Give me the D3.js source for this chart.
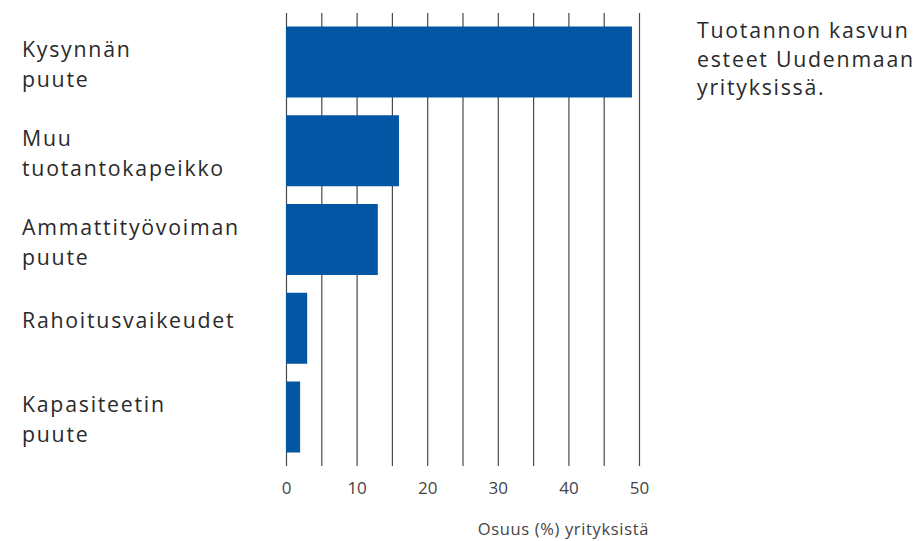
<!DOCTYPE html>
<html>
<head>
<meta charset="utf-8">
<script src="https://cdn.jsdelivr.net/npm/d3@7"></script>
<style>
  html, body { margin: 0; padding: 0; background: #fff; }
  svg { display: block; }
  text { font-family: "Open Sans", "Noto Sans", sans-serif; }
</style>
</head>
<body>
<svg id="chart" width="915" height="541"></svg>
<script>
const categories = ["Kysynnän\npuute", "Muu\ntuotantokapeikko", "Ammattityövoiman\npuute", "Rahoitusvaikeudet", "Kapasiteetin\npuute"];
const values = [49, 16, 13, 3, 2];
const tickLabels = [0, 10, 20, 30, 40, 50];
const gridValues = [0, 5, 10, 15, 20, 25, 30, 35, 40, 45, 50];
const titleLines = ["Tuotannon kasvun", "esteet Uudenmaan", "yrityksissä."];
const axisTitle = "Osuus (%) yrityksistä";

const svg = d3.select("#chart");
const x = d3.scaleLinear().domain([0, 50]).range([286, 639]);
const y = d3.scaleBand().domain(categories).range([13, 466]).paddingInner(0.2).paddingOuter(0.152);

// gridlines
const grid = svg.append("g").attr("transform", "translate(0,466)")
  .call(d3.axisBottom(x).tickValues(gridValues).tickSize(-453).tickFormat(""));
grid.select(".domain").remove();
grid.selectAll(".tick line").attr("stroke", "#4a4a4a").attr("stroke-width", 1.2);

// bars
svg.append("g").selectAll("rect").data(categories).join("rect")
  .attr("x", x(0))
  .attr("y", d => y(d))
  .attr("width", (d, i) => x(values[i]) - x(0))
  .attr("height", y.bandwidth())
  .attr("fill", "#0256a3");

// tick labels
const ax = svg.append("g").attr("transform", "translate(0,494)")
  .call(d3.axisBottom(x).tickValues(tickLabels).tickSize(0).tickPadding(0));
ax.select(".domain").remove();
ax.selectAll(".tick text")
  .attr("y", 0).attr("dy", 0)
  .attr("font-size", 17)
  .attr("fill", "#444")
  .style("font-family", "'Open Sans', sans-serif");

// axis title
svg.append("text")
  .attr("x", 649).attr("y", 534.5)
  .attr("text-anchor", "end")
  .attr("font-size", 16.5)
  .attr("letter-spacing", "0.65px")
  .attr("fill", "#444")
  .text(axisTitle);

// category labels
const lab = svg.append("g").selectAll("text").data(categories).join("text")
  .attr("x", 22)
  .attr("font-size", 21.3)
  .attr("letter-spacing", "1.75px")
  .attr("fill", "#2a2a2a");
lab.each(function(d) {
  const lines = d.split("\n");
  const c = y(d) + y.bandwidth() / 2;
  const first = lines.length > 1 ? c - 5 : c;
  d3.select(this).selectAll("tspan").data(lines).join("tspan")
    .attr("x", 22)
    .attr("y", (l, j) => first + j * 30)
    .text(l => l);
});

// title
svg.append("text")
  .attr("font-size", 21.3)
  .attr("letter-spacing", "1.75px")
  .attr("fill", "#2a2a2a")
  .selectAll("tspan").data(titleLines).join("tspan")
  .attr("x", 697)
  .attr("y", (l, j) => 38.3 + j * 28.5)
  .text(l => l);
</script>
</body>
</html>
